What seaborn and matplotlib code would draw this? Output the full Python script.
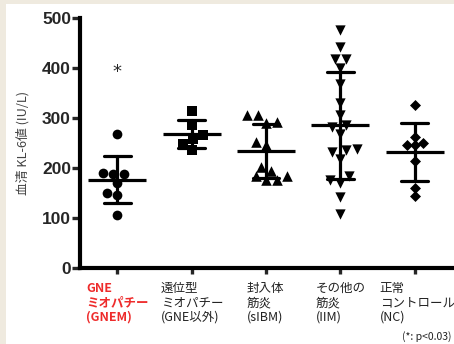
import numpy as np
import pandas as pd
import seaborn as sns
from matplotlib import pyplot as plt
from matplotlib.patches import Rectangle
import matplotlib.transforms as mtransforms

# serum KL-6 per group (IU/L)
gnem = [269, 191, 189, 189, 171, 151, 146, 107]
distal = [314, 286, 267, 259, 249, 236]
sibm = [306, 306, 293, 291, 253, 246, 203, 195, 184, 184, 176, 176]
iim = [476, 443, 419, 419, 401, 368, 331, 306, 287, 283, 269, 238, 236, 233,
       219, 184, 176, 171, 143, 108]
nc = [326, 263, 251, 247, 246, 215, 161, 145]

groups = ['GNE\nミオパチー\n(GNEM)', '遠位型\nミオパチー\n(GNE以外)', '封入体\n筋炎\n(sIBM)',
          'その他の\n筋炎\n(IIM)', '正常\nコントロール\n(NC)']
yticks = [0, 100, 200, 300, 400, 500]

df = pd.DataFrame({
    'group': np.repeat(groups, [len(gnem), len(distal), len(sibm), len(iim), len(nc)]),
    'value': gnem + distal + sibm + iim + nc,
})

sns.set_style('white')
plt.rcParams['font.family'] = ['Noto Sans CJK JP', 'DejaVu Sans']

fig = plt.figure(figsize=(4.54, 3.44), dpi=100)
fig.patch.set_facecolor('#efeadf')
fig.patches.append(Rectangle((6 / 454, 0), 1, (344 - 4) / 344, transform=fig.transFigure,
                             facecolor='white', edgecolor='none', zorder=-5))
ax = fig.add_axes([80 / 454, (344 - 268) / 344, 372 / 454, 250 / 344])
ax.set_facecolor('white')

markers = ['o', 's', '^', 'v', 'D']
sizes = [7.0, 7.4, 7.6, 7.4, 5.6]
for g, m, s in zip(groups, markers, sizes):
    sns.swarmplot(data=df[df.group == g], x='group', y='value', order=groups,
                  marker=m, size=s, color='black', linewidth=0, ax=ax, zorder=2)

# mean +/- SD
sns.pointplot(data=df, x='group', y='value', order=groups, errorbar='sd',
              linestyle='none', color='black', markers='_', markersize=42,
              markeredgewidth=2.3, capsize=0.36, err_kws={'linewidth': 2.3},
              ax=ax, zorder=3)

ax.set_xlim(-0.5, 4.5)
ax.set_ylim(0, 500)
ax.set_yticks(yticks)
ax.set_yticklabels([str(t) for t in yticks], fontfamily='Liberation Sans',
                   fontweight='bold', fontsize=12.5)
ax.set_xlabel('')
ax.set_ylabel('血清 KL-6値 (IU/L)', fontsize=9.2, color='#444444', labelpad=9)

for side in ['top', 'right']:
    ax.spines[side].set_visible(False)
for side in ['left', 'bottom']:
    ax.spines[side].set_linewidth(3)
    ax.spines[side].set_color('black')
ax.tick_params(axis='y', direction='out', length=6, width=2.4, pad=0.5, left=True)
ax.tick_params(axis='x', direction='out', length=4, width=2.4, pad=6, bottom=True)

shifts = [-31, -31, -19, -25, -35]
for lab, dx in zip(ax.get_xticklabels(), shifts):
    lab.set_horizontalalignment('left')
    lab.set_multialignment('left')
    lab.set_fontsize(9)
    lab.set_linespacing(1.15)
    lab.set_transform(lab.get_transform() + mtransforms.ScaledTranslation(dx / 100, 0, fig.dpi_scale_trans))
    lab.set_color('#222222')
xl = ax.get_xticklabels()
xl[0].set_color('#ee2b2b')
xl[0].set_fontweight('bold')

ax.text(0, 392, '*', ha='center', va='center', fontsize=13, fontfamily='DejaVu Sans')
fig.text(452 / 454, 1 - 337 / 344, '(*: p<0.03)', ha='right', va='center', fontsize=7.5, color='#222222')

plt.savefig('out.png', dpi=100)
